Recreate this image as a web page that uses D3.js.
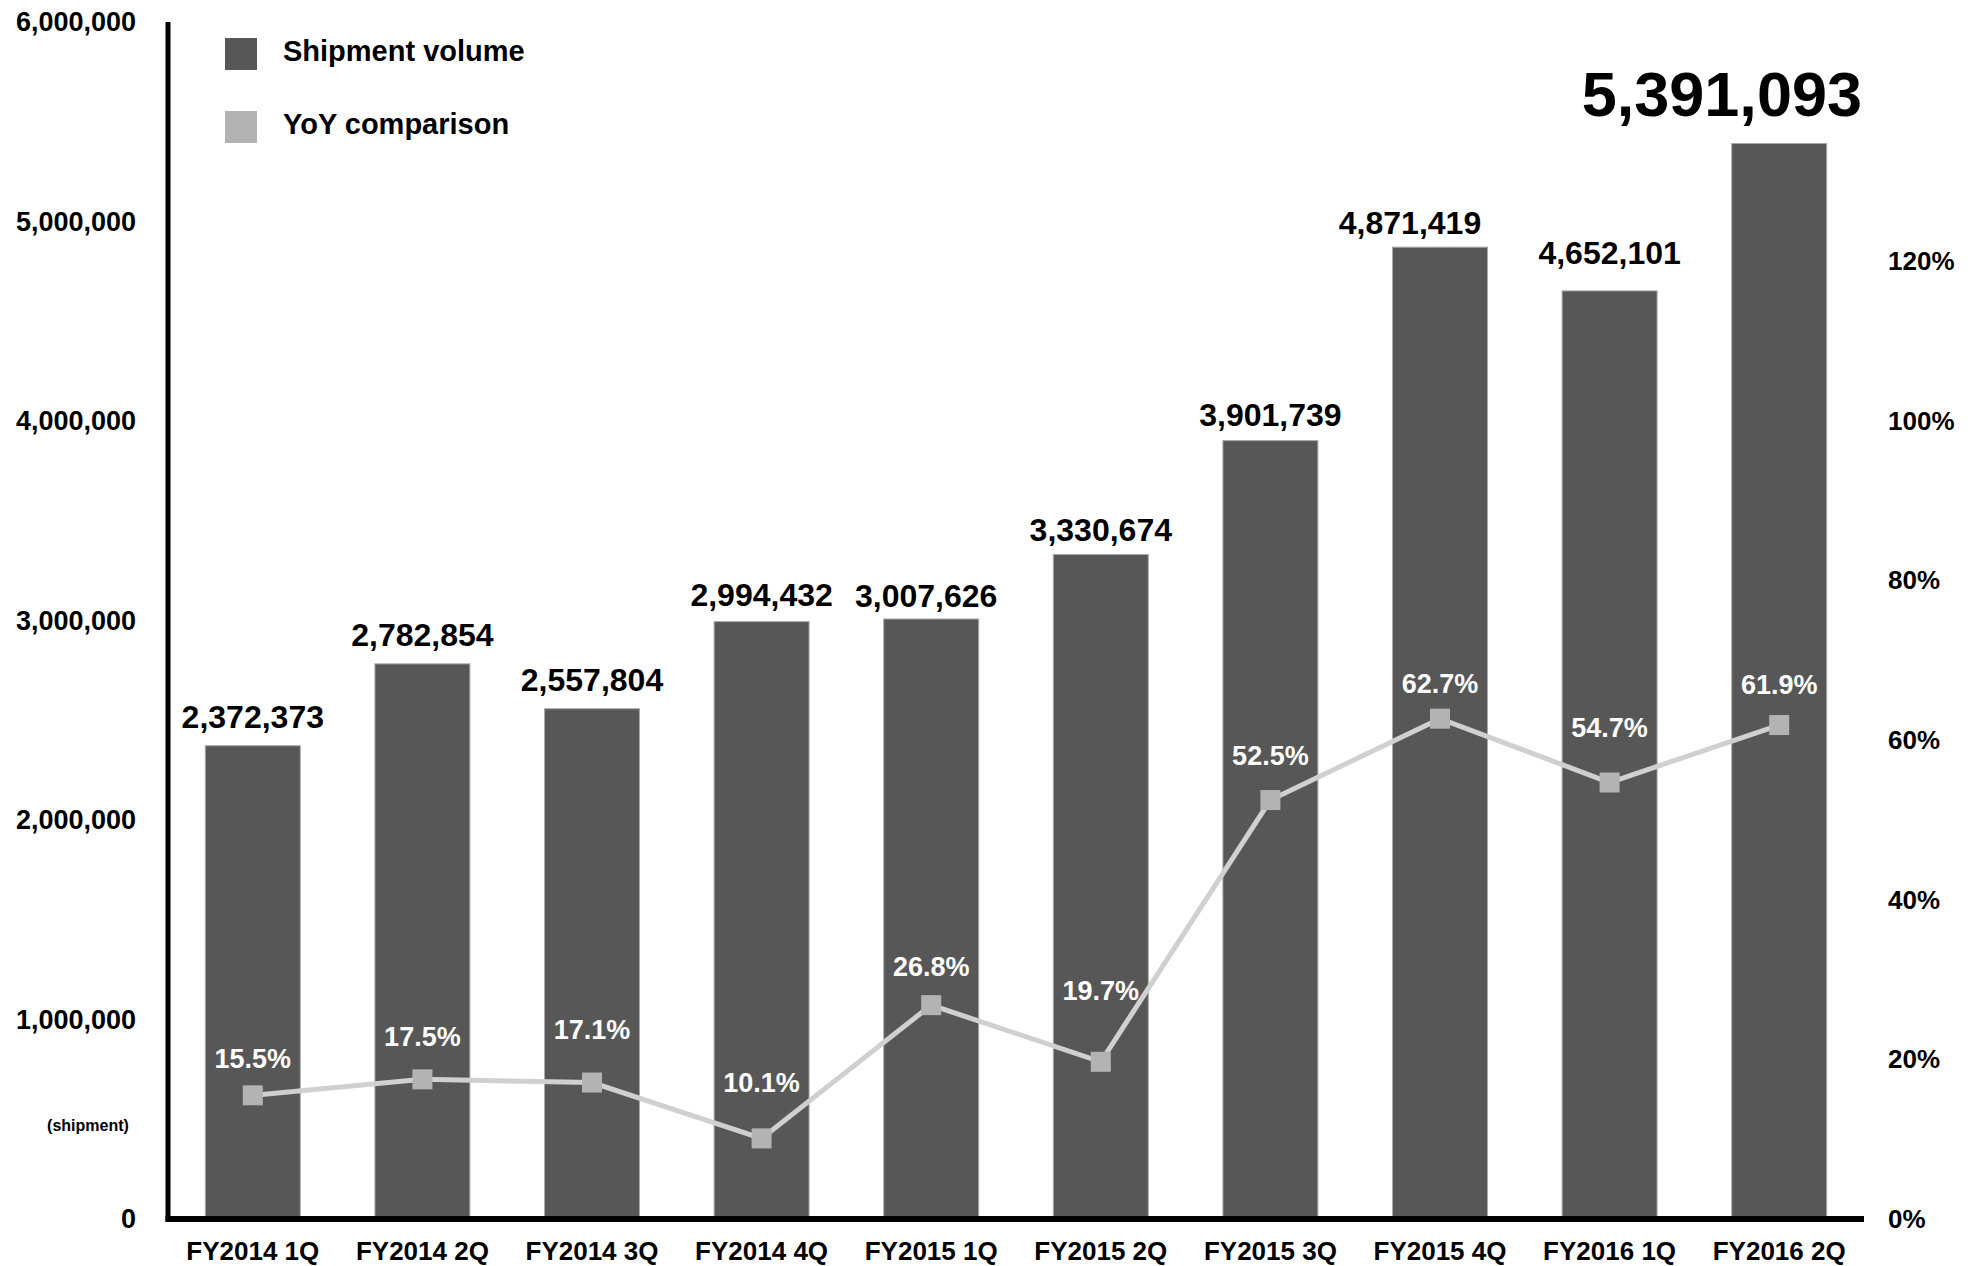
<!DOCTYPE html>
<html>
<head>
<meta charset="utf-8">
<script src="https://cdn.jsdelivr.net/npm/d3@7"></script>
<style>
  html, body { margin: 0; padding: 0; background: #ffffff; }
  svg { display: block; font-family: "Liberation Sans", Arial, Helvetica, sans-serif; font-weight: bold; }
</style>
</head>
<body>
<svg id="chart" width="1981" height="1266"></svg>
<script>
// Quarterly shipments and year-over-year growth
const quarters = ["FY2014 1Q", "FY2014 2Q", "FY2014 3Q", "FY2014 4Q", "FY2015 1Q",
                  "FY2015 2Q", "FY2015 3Q", "FY2015 4Q", "FY2016 1Q", "FY2016 2Q"];
const shipments = [2372373, 2782854, 2557804, 2994432, 3007626,
                   3330674, 3901739, 4871419, 4652101, 5391093];
const yoyGrowth = [15.5, 17.5, 17.1, 10.1, 26.8, 19.7, 52.5, 62.7, 54.7, 61.9];
const leftTicks = [0, 1000000, 2000000, 3000000, 4000000, 5000000, 6000000];
const rightTicks = [0, 20, 40, 60, 80, 100, 120];
const legendItems = ["Shipment volume", "YoY comparison"];

// Hand-placed label nudges (pixels), so labels clear the line and neighbours
const barLabelShiftX = [0, 0, 0, 0, -5, 0, 0, -30, 0, 0];
const barLabelShiftY = [0, 0, 0, 2, 6, 4, 3, 5, -9, 0];
const yoyLabelShiftY = [3, -3, -14, -16, 1, -32, -5, 4, -15, -1];

const svg = d3.select("#chart");

const plot = { left: 168, right: 1864, top: 22, bottom: 1219 };
const barColor = "#575757";
const lineColor = "#d0d0d0";
const markerColor = "#b3b3b3";

const x = d3.scaleBand()
  .domain(quarters)
  .range([plot.left, plot.right])
  .paddingInner(0.44)
  .paddingOuter(0.22);

const yLeft = d3.scaleLinear().domain([0, 6000000]).range([plot.bottom, plot.top]);
const yRight = d3.scaleLinear().domain([0, 150]).range([plot.bottom, plot.top]);

// Bars
svg.append("g")
  .selectAll("rect")
  .data(quarters)
  .join("rect")
  .attr("x", d => x(d))
  .attr("width", x.bandwidth())
  .attr("y", (d, i) => yLeft(shipments[i]))
  .attr("height", (d, i) => plot.bottom - yLeft(shipments[i]))
  .attr("fill", barColor)
  .attr("stroke", "#a8a8a8")
  .attr("stroke-width", 1);

// Bar value labels (last quarter highlighted in large type)
const last = quarters.length - 1;
svg.append("g")
  .selectAll("text")
  .data(quarters.slice(0, last))
  .join("text")
  .attr("x", (d, i) => x(d) + x.bandwidth() / 2 + barLabelShiftX[i])
  .attr("y", (d, i) => yLeft(shipments[i]) - 18 + barLabelShiftY[i])
  .attr("text-anchor", "middle")
  .attr("font-size", 32)
  .attr("fill", "#000")
  .text((d, i) => d3.format(",")(shipments[i]));

svg.append("text")
  .attr("x", plot.right - 2)
  .attr("y", yLeft(shipments[last]) - 27)
  .attr("text-anchor", "end")
  .attr("font-size", 63)
  .attr("fill", "#000")
  .text(d3.format(",")(shipments[last]));

// YoY line
const cx = d => x(d) + x.bandwidth() / 2;
const line = d3.line()
  .x((d, i) => cx(quarters[i]))
  .y(d => yRight(d));

svg.append("path")
  .datum(yoyGrowth)
  .attr("d", line)
  .attr("fill", "none")
  .attr("stroke", lineColor)
  .attr("stroke-width", 5);

const mk = 20;
svg.append("g")
  .selectAll("rect")
  .data(yoyGrowth)
  .join("rect")
  .attr("x", (d, i) => cx(quarters[i]) - mk / 2)
  .attr("y", d => yRight(d) - mk / 2)
  .attr("width", mk)
  .attr("height", mk)
  .attr("fill", markerColor);

svg.append("g")
  .selectAll("text")
  .data(yoyGrowth)
  .join("text")
  .attr("x", (d, i) => cx(quarters[i]))
  .attr("y", (d, i) => yRight(d) - 30 + yoyLabelShiftY[i])
  .attr("text-anchor", "middle")
  .attr("font-size", 27)
  .attr("fill", "#ffffff")
  .text(d => d.toFixed(1) + "%");

// Left axis
const gl = svg.append("g")
  .attr("transform", `translate(${plot.left},0)`)
  .call(d3.axisLeft(yLeft).tickValues(leftTicks).tickSize(0).tickPadding(32).tickFormat(d3.format(",")));
gl.select(".domain").remove();
gl.selectAll("text").attr("font-size", 27).attr("font-family", null).attr("fill", "#000");

// Right axis
const gr = svg.append("g")
  .attr("transform", `translate(1888,0)`)
  .call(d3.axisRight(yRight).tickValues(rightTicks).tickSize(0).tickPadding(0).tickFormat(d => d + "%"));
gr.select(".domain").remove();
gr.selectAll("text").attr("font-size", 26).attr("font-family", null).attr("fill", "#000");

// Bottom axis labels
const gb = svg.append("g")
  .attr("transform", `translate(0,${plot.bottom})`)
  .call(d3.axisBottom(x).tickSize(0).tickPadding(23));
gb.select(".domain").remove();
gb.selectAll("text").attr("font-size", 26).attr("font-family", null).attr("fill", "#000");

// Axis lines
svg.append("line")
  .attr("x1", plot.left).attr("x2", plot.left)
  .attr("y1", plot.top).attr("y2", plot.bottom + 3)
  .attr("stroke", "#000").attr("stroke-width", 5);
svg.append("line")
  .attr("x1", plot.left - 2.5).attr("x2", plot.right)
  .attr("y1", plot.bottom).attr("y2", plot.bottom)
  .attr("stroke", "#000").attr("stroke-width", 6);

// Unit note
svg.append("text")
  .attr("x", 88)
  .attr("y", 1131)
  .attr("text-anchor", "middle")
  .attr("font-size", 16)
  .attr("fill", "#000")
  .text("(shipment)");

// Legend
const legendColors = [barColor, markerColor];
const lg = svg.append("g");
legendItems.forEach((name, i) => {
  const ly = 38 + i * 73;
  lg.append("rect")
    .attr("x", 225).attr("y", ly)
    .attr("width", 32).attr("height", 32)
    .attr("fill", legendColors[i]);
  lg.append("text")
    .attr("x", 283).attr("y", ly + 13)
    .attr("dy", "0.36em")
    .attr("font-size", 29)
    .attr("fill", "#000")
    .text(name);
});
</script>
</body>
</html>
